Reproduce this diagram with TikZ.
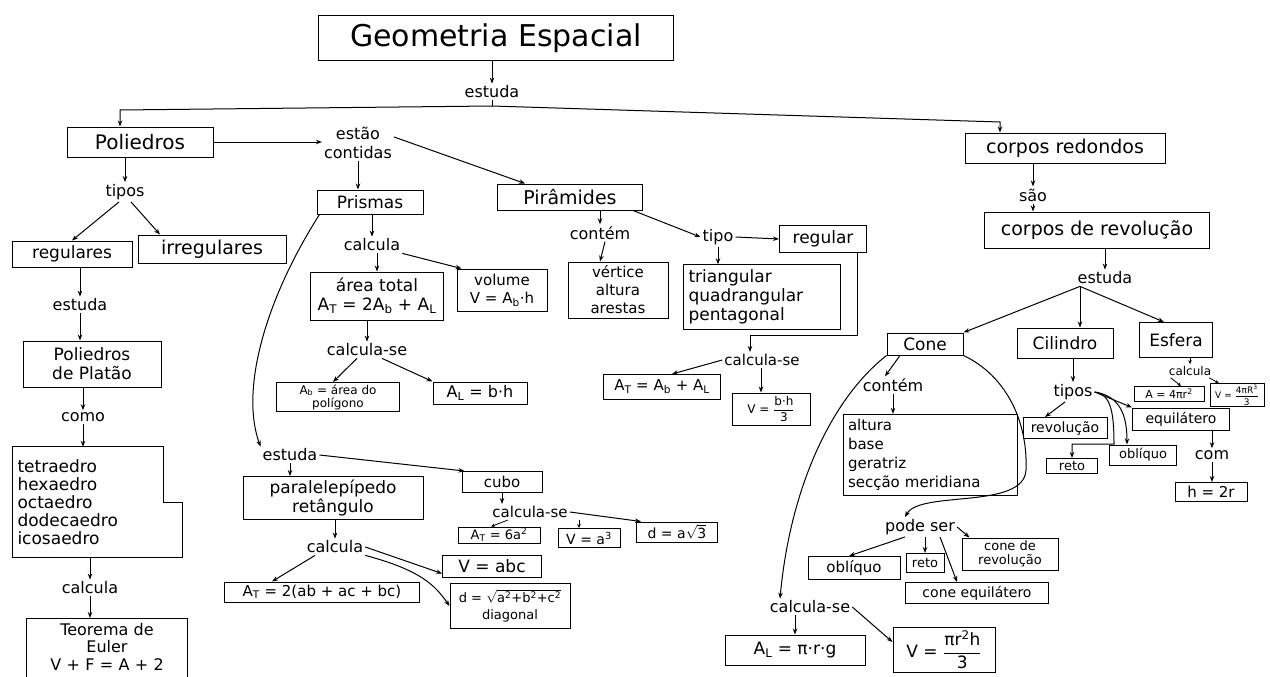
\RequirePackage{fix-cm}
\documentclass[tikz,border=0pt]{standalone}
\usepackage{amsmath}
\usepackage{fontspec}
\setmainfont{DejaVu Sans}
\usetikzlibrary{arrows.meta,calc}
\newcommand\fsz[2]{\fontsize{#1}{#2}\selectfont}
\newcommand\subx[1]{\textsubscript{#1}}
\newcommand\supx[1]{\textsuperscript{#1}}
\begin{document}
\begin{tikzpicture}[x=1pt,y=-1pt,
  every node/.style={inner sep=2pt},
  arr/.style={draw, line width=1pt, -{Stealth[length=6pt,width=4.5pt]}},
  sarr/.style={draw, line width=0.8pt, -{Stealth[length=4pt,width=3.5pt]}},
  ln/.style={line width=1pt},
  bx/.style={draw, line width=1pt, rectangle, align=center, font=\fsz{17}{19}},
  lb/.style={align=center, font=\fsz{16}{19}},
]
\useasboundingbox (0,0) rectangle (1270,677);
\clip (0,0) rectangle (1270,677);

% ---------- top ----------
\node[bx, minimum width=355pt, minimum height=45pt, font=\fsz{30}{34}] (geo) at (496,38) {Geometria Espacial};
\node[lb] (est0) at (492,92) {estuda};
\coordinate (j) at (492,106);
\coordinate (jl) at (120,110);
\coordinate (jr) at (1000,122);

% ---------- poliedros ----------
\node[bx, minimum width=146pt, minimum height=30pt, font=\fsz{20}{22}] (poli) at (140,142) {Poliedros};
\node[lb] (cont) at (358,143) {estão\\contidas};
\node[bx, minimum width=106pt, minimum height=24pt] (pris) at (370,202) {Prismas};
\node[bx, minimum width=145pt, minimum height=26pt, font=\fsz{19}{21}] (piram) at (570,197) {Pirâmides};
\node[lb] (tipos) at (125,192) {tipos};
\node[bx, minimum width=120pt, minimum height=26pt] (reg) at (72,254) {regulares};
\node[bx, minimum width=148pt, minimum height=28pt, font=\fsz{19}{21}] (irr) at (212,249) {irregulares};
\node[lb] (est1) at (80,305) {estuda};
\node[bx, minimum width=138pt, minimum height=46pt] (plat) at (92,364) {Poliedros\\de Platão};
\node[lb] (como) at (83,417) {como};
\node[text width=160pt, inner sep=5pt, minimum height=110pt, align=left, font=\fsz{17}{18}] (sol) at (97.5,502) {tetraedro\\hexaedro\\octaedro\\dodecaedro\\icosaedro};
\draw[ln] (sol.north west) -- ([xshift=-19pt]sol.north east) -- ([xshift=-19pt,yshift=-56pt]sol.north east) -- ([yshift=-56pt]sol.north east) -- (sol.south east) -- (sol.south west) -- cycle;
\node[lb] (calc0) at (90,588) {calcula};
\node[text width=150pt, inner sep=5pt, align=center, anchor=north, font=\fsz{16}{17.5}] (eul) at (107,618) {Teorema de\\Euler\\V + F = A + 2};
\draw[ln] ([yshift=-20pt]eul.south west) -- (eul.north west) -- (eul.north east) -- ([yshift=-20pt]eul.south east);

% ---------- prismas ----------
\node[lb] (calc1) at (372,245) {calcula};
\node[bx, minimum width=133pt, minimum height=48pt] (area) at (377,296) {área total\\A\subx{T} = 2A\subx{b} + A\subx{L}};
\node[bx, minimum width=90pt, minimum height=42pt, font=\fsz{15}{18}] (vol) at (502,290) {volume\\V = A\subx{b}·h};
\node[lb] (cs1) at (367,350) {calcula-se};
\node[bx, minimum width=123pt, minimum height=28pt, font=\fsz{12}{13}] (ab) at (338,397) {A\subx{b} = área do\\polígono};
\node[bx, minimum width=94pt, minimum height=22pt, font=\fsz{16}{18}] (al) at (480,393) {A\subx{L} = b·h};
\node[lb] (est2) at (290,455) {estuda};
\node[bx, minimum width=180pt, minimum height=43pt] (para) at (333,498) {paralelepípedo\\retângulo};
\node[bx, minimum width=80pt, minimum height=21pt, font=\fsz{15}{17}] (cubo) at (502,482) {cubo};
\node[lb, font=\fsz{15}{17}] (cs2) at (530,512) {calcula-se};
\node[bx, minimum width=82pt, minimum height=16pt, inner sep=1pt, font=\fsz{13}{15}] (at6) at (499,535) {A\subx{T} = 6a\supx{2}};
\node[bx, minimum width=62pt, minimum height=19pt, inner sep=1pt, font=\fsz{14}{16}] (va3) at (589,538) {V = a\supx{3}};
\node[bx, minimum width=81pt, minimum height=20pt, inner sep=1pt, font=\fsz{14}{16}] (da3) at (677,532) {d = a$\sqrt{\text{3}}$};
\node[lb] (calc2) at (335,547) {calcula};
\node[bx, minimum width=195pt, minimum height=20pt, inner sep=1pt, font=\fsz{15}{17}] (atp) at (322,592) {A\subx{T} = 2(ab + ac + bc)};
\node[bx, minimum width=99pt, minimum height=22pt, inner sep=1pt] (vabc) at (492,566) {V = abc};
\node[bx, minimum width=120pt, minimum height=45pt, inner sep=1pt, font=\fsz{13}{17}] (diag) at (510,606) {d = $\sqrt{\text{a\supx{2}+b\supx{2}+c\supx{2}}}$\\diagonal};

% ---------- piramides ----------
\node[lb] (contem) at (600,233) {contém};
\node[bx, minimum width=100pt, minimum height=56pt, font=\fsz{15}{18}] (vaa) at (618,290) {vértice\\altura\\arestas};
\node[lb] (tipo) at (718,237) {tipo};
\node[bx, minimum width=87pt, minimum height=27pt] (regu) at (823,239) {regular};
\node[bx, text width=147pt, inner sep=5pt, minimum height=63pt, align=left, font=\fsz{17}{19}] (tqp) at (762,297) {triangular\\quadrangular\\pentagonal};
\node[lb, font=\fsz{15}{17}] (cs3) at (762,360) {calcula-se};
\node[bx, minimum width=117pt, minimum height=25pt, font=\fsz{15}{17}] (atp2) at (662,387) {A\subx{T} = A\subx{b} + A\subx{L}};
\node[bx, minimum width=78pt, minimum height=32pt, inner sep=1pt, font=\fsz{12}{14}] (vp) at (771,409) {V = $\dfrac{\text{b·h}}{\text{3}}$};

% ---------- corpos redondos ----------
\node[bx, minimum width=200pt, minimum height=30pt, font=\fsz{19}{21}] (cr) at (1065,148) {corpos redondos};
\node[lb] (sao) at (1033,195) {são};
\node[bx, minimum width=225pt, minimum height=36pt, font=\fsz{19}{21}] (crev) at (1097,230) {corpos de revolução};
\node[lb] (est3) at (1105,278) {estuda};
\node[bx, minimum width=76pt, minimum height=22pt] (cone) at (925,344) {Cone};
\node[bx, minimum width=96pt, minimum height=30pt] (cil) at (1065,343) {Cilindro};
\node[bx, minimum width=73pt, minimum height=35pt] (esf) at (1176,340) {Esfera};
\node[lb] (cont2) at (893,385) {contém};
\node[bx, text width=164pt, inner sep=5pt, minimum height=76pt, align=left, font=\fsz{15}{19}] (cbox) at (930,455) {altura\\base\\geratriz\\secção meridiana};
\node[lb] (ps) at (920,527) {pode ser};
\node[bx, minimum width=92pt, minimum height=23pt, font=\fsz{15}{17}] (obl) at (854,568) {oblíquo};
\node[bx, minimum width=38pt, minimum height=19pt, inner sep=1pt, font=\fsz{13}{15}] (reto1) at (925,563) {reto};
\node[bx, minimum width=96pt, minimum height=32pt, inner sep=1pt, font=\fsz{13}{14}] (cdr) at (1010,554) {cone de\\revolução};
\node[bx, minimum width=143pt, minimum height=21pt, font=\fsz{14}{16}] (ceq) at (977,593) {cone equilátero};
\node[lb] (cs4) at (810,607) {calcula-se};
\node[bx, minimum width=140pt, minimum height=30pt] (alc) at (795,650) {A\subx{L} = π·r·g};
\node[bx, minimum width=102pt, minimum height=45pt] (vc) at (944,650) {V = $\dfrac{\text{πr\supx{2}h}}{\text{3}}$};

\node[lb, font=\fsz{12}{14}] (calce) at (1190,371) {calcula};
\node[bx, minimum width=70pt, minimum height=15pt, inner sep=1pt, font=\fsz{11}{12}] (aesf) at (1169,394) {A = 4πr\supx{2}};
\node[bx, minimum width=54pt, minimum height=22pt, inner sep=1pt, font=\fsz{9}{10}] (vesf) at (1237,395) {V = $\dfrac{\text{4πR\supx{3}}}{\text{3}}$};
\node[lb] (tipos2) at (1073,392) {tipos};
\node[bx, minimum width=84pt, minimum height=21pt, font=\fsz{14}{16}] (revol) at (1065,428) {revolução};
\node[bx, minimum width=51pt, minimum height=15pt, inner sep=1pt, font=\fsz{13}{15}] (reto2) at (1072,466) {reto};
\node[bx, minimum width=67pt, minimum height=20pt, inner sep=1pt, font=\fsz{13}{15}] (obl2) at (1143,455) {oblíquo};
\node[bx, minimum width=97pt, minimum height=22pt, font=\fsz{14}{16}] (equi) at (1181,419) {equilátero};
\node[lb] (com) at (1212,455) {com};
\node[bx, minimum width=72pt, minimum height=19pt, inner sep=1pt, font=\fsz{15}{17}] (h2r) at (1211,492) {h = 2r};

% ---------- connectors: top ----------
\draw[arr] (est0.north |- geo.south) -- (est0.north);
\draw[ln] (est0.south) -- (j);
\draw[arr] (j) -- (jl) -- (jl |- poli.north);
\draw[arr] (j) -- (jr) -- (jr |- cr.north);

% poliedros
\draw[arr] (poli.east) -- (cont.west |- poli.east);
\draw[arr] (cont.south) -- (cont.south |- pris.north);
\draw[arr] ([yshift=6pt]cont.east) -- ([xshift=-45pt]piram.north);
\draw[arr] (tipos |- poli.south) -- (tipos.north);
\draw[arr] ([xshift=-6pt]tipos.south) -- (reg.north);
\draw[arr] ([xshift=6pt]tipos.south) -- ([xshift=-52pt]irr.north);
\draw[arr] (est1.north |- reg.south) -- (est1.north);
\draw[arr] (est1.south) -- (est1.south |- plat.north);
\draw[arr] (como.north |- plat.south) -- (como.north);
\draw[arr] (como.south) -- (como.south |- sol.north);
\draw[arr] (calc0.north |- sol.south) -- (calc0.north);
\draw[arr] (calc0.south) -- (calc0.south |- eul.north);

% prismas
\draw[arr] (calc1.north |- pris.south) -- (calc1.north);
\draw[arr] (area.north |- calc1.south) -- (area.north);
\draw[arr] (calc1.south east) -- ([xshift=5pt]vol.north west);
\draw[arr] (cs1.north |- area.south) -- (cs1.north);
\draw[arr] ([xshift=-10pt]cs1.south) -- ([xshift=-5pt]ab.north);
\draw[arr] ([xshift=15pt]cs1.south) -- (al.north west);
\draw[arr] ([xshift=3pt]pris.south west) .. controls (265,300) and (240,390) .. (est2.north west);
\draw[arr] (est2.south) -- (est2.south |- para.north);
\draw[arr] (est2.east) -- ([xshift=3pt]cubo.north west);
\draw[arr] (cubo.south) -- (cubo.south |- cs2.north);
\draw[sarr] ([xshift=-22pt]cs2.south) -- ([xshift=-8pt]at6.north);
\coordinate (c1) at ([xshift=-10pt]va3.north);
\draw[sarr] (c1 |- cs2.south) -- (c1);
\draw[arr] (cs2.east) -- ([xshift=5pt]da3.north west);
\draw[arr] (calc2.north |- para.south) -- (calc2.north);
\draw[arr] ([xshift=-20pt]calc2.south) -- ([xshift=-50pt]atp.north);
\draw[arr] (calc2.east) -- ([yshift=4pt]vabc.south west);
\draw[arr] (calc2.south east) .. controls (420,570) and (435,585) .. (diag.west);

% piramides
\draw[arr] (contem.north |- piram.south) -- (contem.north);
\coordinate (c2) at ([xshift=-18pt]vaa.north);
\draw[arr] ([xshift=5pt]contem.south) -- (c2);
\draw[arr] ([xshift=-10pt]piram.south east) -- (tipo.west);
\draw[arr] (tipo.east) -- (regu.west);
\draw[arr] (tipo.south) -- (tipo.south |- tqp.north);
\coordinate (rk) at (857,335);
\coordinate (c3) at ([xshift=-12pt]cs3.north);
\draw[arr] (rk |- regu.south) -- (rk) -| (c3);
\draw[arr] (cs3.west) -- ([xshift=10pt]atp2.north);
\coordinate (c4) at ([xshift=-10pt]vp.north);
\draw[arr] (c4 |- cs3.south) -- (c4);

% corpos redondos
\draw[arr] (sao.north |- cr.south) -- (sao.north);
\draw[arr] (sao.south) -- (sao.south |- crev.north);
\draw[arr] (est3.north |- crev.south) -- (est3.north);
\coordinate (e3) at ([xshift=-25pt]est3.south);
\draw[arr] (e3) -- (cone.north east);
\draw[arr] (e3) -- (e3 |- cil.north);
\draw[arr] (e3) -- ([xshift=-12pt]esf.north);
\draw[sarr] (calce.north |- esf.south) -- (calce.north);
\draw[sarr] ([xshift=4pt]calce.south west) -- ([xshift=12pt]aesf.north);
\draw[sarr] ([xshift=-4pt]calce.south east) -- ([xshift=-18pt]vesf.north);
\draw[arr] (tipos2.north |- cil.south) -- (tipos2.north);
\draw[arr] ([xshift=-8pt]tipos2.south) -- ([xshift=-20pt]revol.north);
\coordinate (rk2) at (1114,444);
\draw[arr] (tipos2.east) .. controls (1110,394) and (1114,410) .. (rk2) -- (reto2.north |- rk2) -- (reto2.north);
\draw[arr] (tipos2.east) .. controls (1120,396) and (1127,415) .. ([xshift=-16pt]obl2.north);
\draw[arr] (tipos2.east) -- (equi.north west);
\draw[arr] (com.north |- equi.south) -- (com.north);
\draw[arr] (com.south) -- (com.south |- h2r.north);

% cone
\coordinate (c5) at ([xshift=-25pt]cone.south);
\draw[arr] (c5) -- ([xshift=-8pt]cont2.north);
\draw[arr] (cont2.south) -- (cont2.south |- cbox.north);
\draw[arr] (cone.south west) .. controls (830,400) and (790,490) .. ([xshift=-30pt]cs4.north);
\draw[arr] (cone.south east) .. controls (1005,375) and (1028,420) .. (1026,470) .. controls (1024,510) and (920,490) .. ([xshift=-15pt]ps.north);
\draw[arr] ([xshift=-15pt]ps.south) -- ([xshift=-5pt]obl.north);
\draw[arr] (reto1.north |- ps.south) -- (reto1.north);
\draw[arr] (ps.east) -- ([xshift=8pt]cdr.north west);
\draw[arr] ([xshift=20pt]ps.south) -- ([xshift=-20pt]ceq.north);
\draw[arr] (alc.north |- cs4.south) -- (alc.north);
\draw[arr] (cs4.east) -- ([yshift=8pt]vc.west);
\end{tikzpicture}
\end{document}
